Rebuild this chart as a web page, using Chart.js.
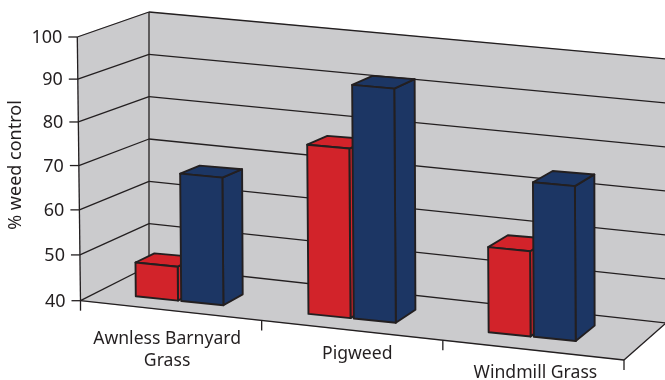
<!DOCTYPE html>
<html>
<head>
<meta charset="utf-8">
<style>
  html, body { margin: 0; padding: 0; background: #fff; }
  canvas { display: block; }
</style>
<script src="https://cdn.jsdelivr.net/npm/chart.js@4"></script>
</head>
<body>
<canvas id="weedChart" width="665" height="380"></canvas>
<script>
// chart data
var categories = [["Awnless Barnyard", "Grass"], ["Pigweed"], ["Windmill Grass"]];
var redValues = [47.5, 77.8, 58.6];
var blueValues = [68.5, 92.5, 74];
var yMin = 40;
var yMax = 100;
var yStep = 10;
var yTitle = "% weed control";

// colours
var INK = "#231f20";
var WALL = "#cbcbcd";
var RED = "#d2232a";
var BLUE = "#1c3664";
var FONT = "'Noto Sans', Lato, sans-serif";

// corners of the 3d box: [x, y] on the canvas, named by side
// f = front, b = back, l = left, r = right, 0 = floor, 1 = top
var box = {
  fl0: [80.5, 300.7], fr0: [624, 360], bl0: [149, 266], br0: [666, 323],
  fl1: [77.3, 37],    fr1: [622, 86],  bl1: [149, 12],  br1: [666, 59]
};
var labelOffsets = [[-4, 28], [5, 24], [2, 23]];
// sideways nudge of each bar cluster, in px
var clusterNudge = [-9.7, -19.8, -20];

function mix(a, b, t) {
  return [a[0] + (b[0] - a[0]) * t, a[1] + (b[1] - a[1]) * t];
}

// u along the categories, v up the value axis, z into the chart, all 0..1
function project(u, v, z) {
  // front edge rows bunch up slightly towards the top
  var vv = v + 0.05 * (1 - z) * v * (1 - v);
  var floor = mix(mix(box.fl0, box.fr0, u), mix(box.bl0, box.br0, u), z);
  var top = mix(mix(box.fl1, box.fr1, u), mix(box.bl1, box.br1, u), z);
  return mix(floor, top, vv);
}

function poly(ctx, pts, fill) {
  ctx.beginPath();
  ctx.moveTo(pts[0][0], pts[0][1]);
  for (var i = 1; i < pts.length; i++) ctx.lineTo(pts[i][0], pts[i][1]);
  ctx.closePath();
  if (fill) {
    ctx.fillStyle = fill;
    ctx.fill();
  }
  ctx.stroke();
}

function line(ctx, a, b) {
  ctx.beginPath();
  ctx.moveTo(a[0], a[1]);
  ctx.lineTo(b[0], b[1]);
  ctx.stroke();
}

// walls, floor, grid lines and axis text
function drawFrame(chart, ctx) {
  var yScale = chart.scales.y;
  var xScale = chart.scales.x;
  var area = chart.chartArea;

  ctx.strokeStyle = WALL;
  ctx.lineWidth = 0;
  poly(ctx, [box.fl0, box.bl0, box.bl1, box.fl1], WALL);
  poly(ctx, [box.bl0, box.br0, box.br1, box.bl1], WALL);
  poly(ctx, [box.fl0, box.fr0, box.br0, box.bl0], WALL);

  ctx.strokeStyle = INK;
  ctx.lineWidth = 1.3;
  ctx.fillStyle = INK;
  ctx.font = "18px " + FONT;
  ctx.textAlign = "right";
  ctx.textBaseline = "middle";

  yScale.ticks.forEach(function (tick) {
    var v = (area.bottom - yScale.getPixelForValue(tick.value)) / area.height;
    var front = project(0, v, 0);
    var corner = project(0, v, 1);
    line(ctx, front, corner);
    line(ctx, corner, project(1, v, 1));
    line(ctx, [front[0] - 9, front[1]], front);
    ctx.fillStyle = INK;
    ctx.fillText(String(tick.value), front[0] - 15, front[1] + 1);
  });

  line(ctx, box.bl0, box.bl1);
  line(ctx, box.fl1, box.fl0);
  line(ctx, box.fl0, box.fr0);
  line(ctx, box.fr0, box.br0);

  // category ticks hang below the front edge
  for (var i = 0; i <= categories.length; i++) {
    var p = project(i / categories.length, 0, 0);
    line(ctx, p, [p[0], p[1] + 10]);
  }

  ctx.font = "17.6px " + FONT;
  ctx.textAlign = "center";
  categories.forEach(function (lines, index) {
    var u = (xScale.getPixelForValue(index) - area.left) / area.width;
    var p = project(u, 0, 0);
    lines.forEach(function (text, row) {
      ctx.fillText(text, p[0] + labelOffsets[index][0], p[1] + labelOffsets[index][1] + row * 22);
    });
  });

  ctx.save();
  ctx.translate(16, 165);
  ctx.rotate(-Math.PI / 2);
  ctx.font = "18px " + FONT;
  ctx.fillText(yTitle, 0, 0);
  ctx.restore();
}

// one bar, built from the element the bar controller laid out
function drawBar(chart, ctx, bar, colour, index) {
  var area = chart.chartArea;
  var shift = clusterNudge[index];
  var u0 = (bar.x - bar.width / 2 + shift - area.left) / area.width;
  var u1 = (bar.x + bar.width / 2 + shift - area.left) / area.width;
  var v = (area.bottom - bar.y) / area.height;
  // bars sit a little further forward and run deeper towards the right
  function zFront(u) { return 0.24 + 0.1 * u; }
  function zBack(u) { return zFront(u) + 0.27 + 0.17 * u; }

  var a = project(u0, 0, zFront(u0));
  var b = project(u1, 0, zFront(u1));
  var c = project(u1, v, zFront(u1));
  var d = project(u0, v, zFront(u0));
  var e = project(u1, 0, zBack(u1));
  var f = project(u1, v, zBack(u1));
  var g = project(u0, v, zBack(u0));

  ctx.lineWidth = 1.9;
  ctx.lineJoin = "round";
  ctx.strokeStyle = INK;
  poly(ctx, [b, e, f, c], colour);
  poly(ctx, [d, c, f, g], colour);
  poly(ctx, [a, b, c, d], colour);
}

var box3d = {
  id: "box3d",
  beforeDatasetsDraw: function (chart) {
    var ctx = chart.ctx;
    ctx.save();
    drawFrame(chart, ctx);
    categories.forEach(function (c, index) {
      chart.data.datasets.forEach(function (ds, n) {
        drawBar(chart, ctx, chart.getDatasetMeta(n).data[index], ds.backgroundColor, index);
      });
    });
    ctx.restore();
    return false; // the flat bars are replaced by the boxes above
  }
};

new Chart(document.getElementById("weedChart"), {
  type: "bar",
  data: {
    labels: categories,
    datasets: [
      { data: redValues, backgroundColor: RED, barPercentage: 0.928, categoryPercentage: 0.502 },
      { data: blueValues, backgroundColor: BLUE, barPercentage: 0.928, categoryPercentage: 0.502 }
    ]
  },
  options: {
    responsive: false,
    animation: false,
    layout: { padding: 0 },
    plugins: { legend: { display: false }, tooltip: { enabled: false } },
    scales: {
      x: { display: false },
      y: { display: false, min: yMin, max: yMax, ticks: { stepSize: yStep } }
    }
  },
  plugins: [box3d]
});
</script>
</body>
</html>
